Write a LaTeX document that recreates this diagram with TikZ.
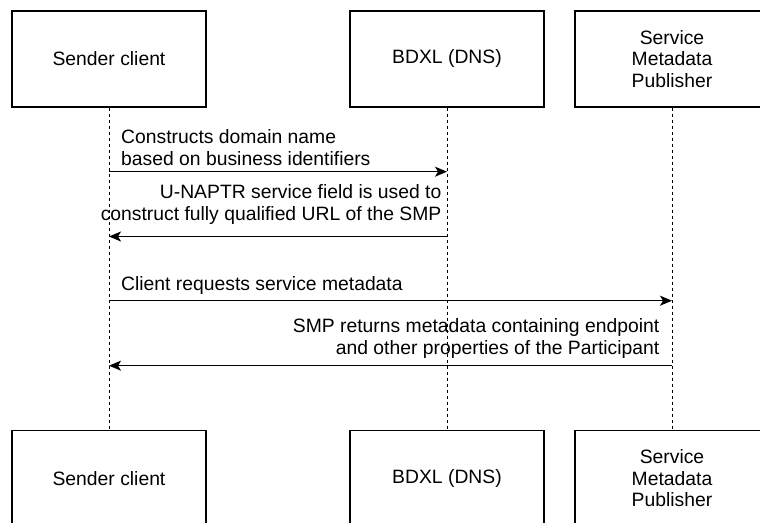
\documentclass[tikz,border=0pt]{standalone}
\usepackage{fontspec}
\setmainfont{Liberation Sans}
\usetikzlibrary{arrows.meta,positioning}
\tikzset{%
	actor/.style    = {draw, rectangle, line width=1.2bp, minimum width=194bp, minimum height=96bp, inner sep=0pt, align=center, font=\fontsize{19.4}{21.7}\selectfont},
	lifeline/.style = {line width=1bp, dash pattern=on 3bp off 3bp},
	msg/.style      = {line width=1.4bp, -{Stealth[length=12bp,width=10bp,inset=3bp]}},
	msglabel/.style = {inner sep=0pt, font=\fontsize{19.4}{21.7}\selectfont},
}

\begin{document}
\begin{tikzpicture}[x=1bp,y=-1bp]
		\useasboundingbox (0,0) rectangle (760,523);
		\clip (0,0) rectangle (760,523);
		
		% participants with their lifelines
		\foreach \n/\x/\txt in {snd/109/{Sender client},bdx/447/{BDXL (DNS)},smp/672/{Service\\Metadata\\Publisher}} {
			\node[actor] (top\n) at (\x,59) {\txt};
			\node[actor, below=322bp of top\n] (bot\n) {\txt};
			\draw[lifeline] (top\n) -- (bot\n);
		}
		
		% ends of the messages on the lifelines
		\coordinate (m1a) at (109,171.7);
		\coordinate (m1b) at (447,171.7);
		\coordinate (m2a) at (447,236.5);
		\coordinate (m2b) at (109,236.5);
		\coordinate (m3a) at (109,300.7);
		\coordinate (m3b) at (672,300.7);
		\coordinate (m4a) at (672,365.7);
		\coordinate (m4b) at (109,365.7);
		
		% messages
		\draw[msg] (m1a) -- (m1b);
		\draw[msg] (m2a) -- (m2b);
		\draw[msg] (m3a) -- (m3b);
		\draw[msg] (m4a) -- (m4b);
		
		\node[msglabel, align=left, above right=6bp and 12bp of m1a] (lab1) {Constructs domain name\\based on business identifiers};
		\node[msglabel, align=right, above left=12bp and 5.5bp of m2a] (lab2) {U-NAPTR service field is used to\\construct fully qualified URL of the SMP};
		\node[msglabel, align=left, above right=6bp and 12bp of m3a] (lab3) {Client requests service metadata};
		\node[msglabel, align=right, above left=7bp and 12.5bp of m4a] (lab4) {SMP returns metadata containing endpoint\\and other properties of the Participant};
		
\end{tikzpicture}
\end{document}
